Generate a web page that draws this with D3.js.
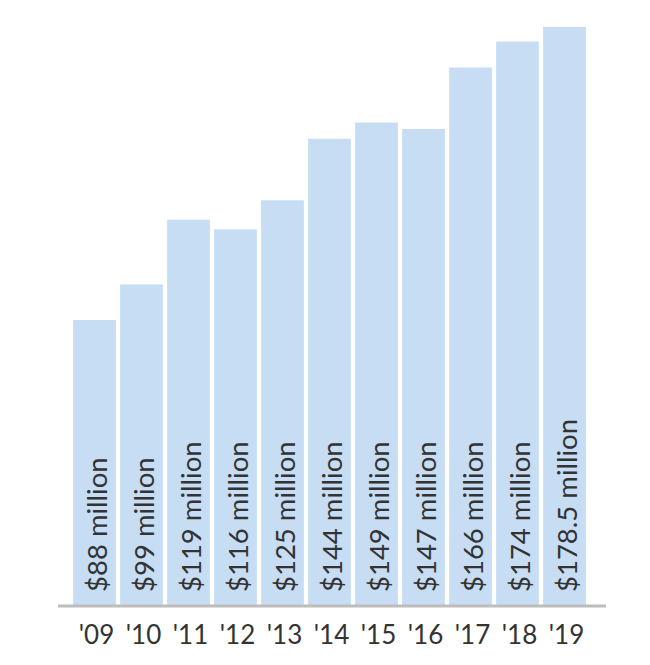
<!DOCTYPE html>
<html><head><meta charset="utf-8">
<script src="https://cdn.jsdelivr.net/npm/d3@7"></script>
<style>body{margin:0;background:#fff}svg{display:block}</style>
</head><body>
<svg id="c" width="650" height="665"></svg>
<script>
const years = ["'09","'10","'11","'12","'13","'14","'15","'16","'17","'18","'19"];
const values = [88, 99, 119, 116, 125, 144, 149, 147, 166, 174, 178.5];
const labels = ["$88 million","$99 million","$119 million","$116 million","$125 million","$144 million","$149 million","$147 million","$166 million","$174 million","$178.5 million"];

const svg = d3.select("#c");
const x = d3.scaleBand().domain(years).range([71, 588]).paddingInner(0.09).paddingOuter(0.045);
const y = d3.scaleLinear().domain([0, 178.5]).range([605, 27]);

svg.selectAll("rect.bar").data(values).join("rect").attr("class","bar")
  .attr("x",(d,i)=>x(years[i])).attr("width",x.bandwidth())
  .attr("y",d=>y(d)).attr("height",d=>y(0)-y(d))
  .attr("fill","#c7ddf3");

svg.append("line").attr("x1",58).attr("x2",606).attr("y1",606).attr("y2",606)
  .attr("stroke","#bdbdbd").attr("stroke-width",3);

svg.selectAll("text.val").data(labels).join("text").attr("class","val")
  .attr("transform",(d,i)=>`translate(${x(years[i])+x.bandwidth()/2+2},${y(0)-13}) rotate(-90)`)
  .attr("dominant-baseline","central")
  .attr("font-family","Lato, 'Open Sans', sans-serif").attr("font-size",27.5)
  .attr("fill","#333").text(d=>d);

const xAxis = d3.axisBottom(x).tickSize(0).tickPadding(0);
const g = svg.append("g").attr("transform","translate(2,635)").call(xAxis);
g.select(".domain").remove();
g.selectAll("text").attr("font-family","Lato, 'Open Sans', sans-serif").attr("font-size",26)
  .attr("fill","#333").attr("dy","0.35em").attr("y",0);
</script>
</body></html>
